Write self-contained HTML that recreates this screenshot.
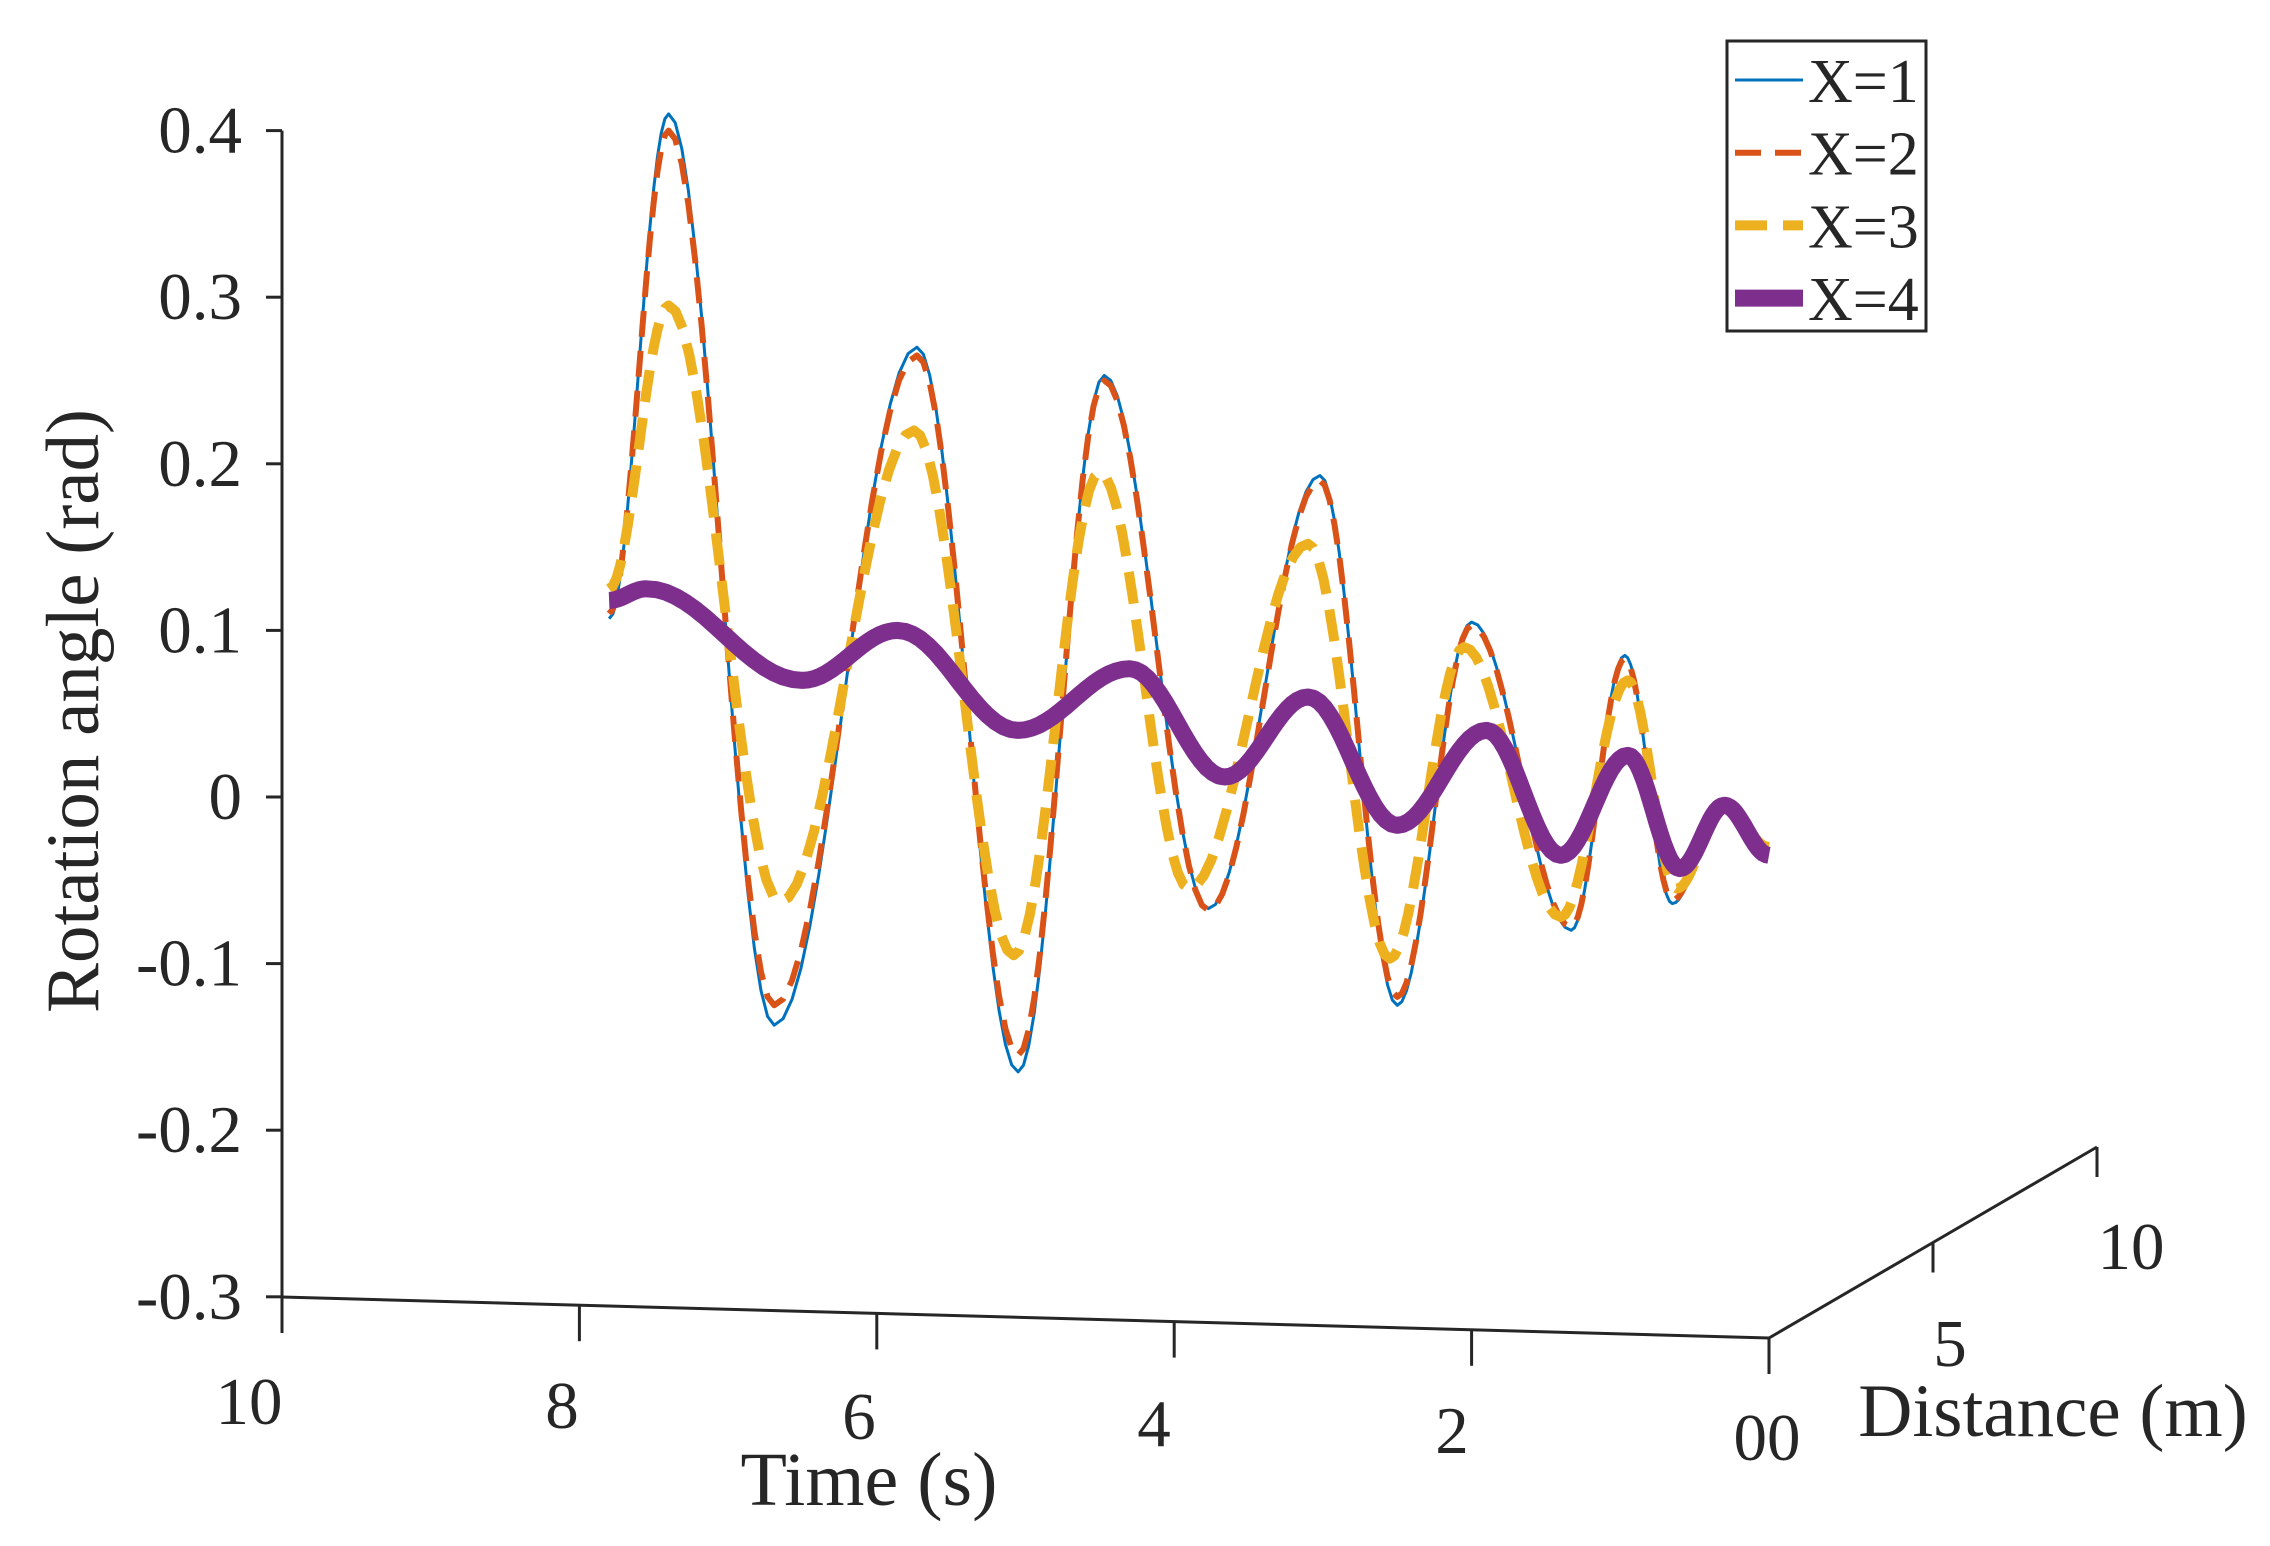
<!DOCTYPE html>
<html><head><meta charset="utf-8"><style>
html,body{margin:0;padding:0;background:#fff;}
svg{display:block;font-family:"Liberation Serif",serif;}
</style></head><body>
<svg id="chart" width="2270" height="1546" viewBox="0 0 2270 1546">
<g id="axes"></g>
<g id="series"></g>
<g id="legend"></g>
</svg>
<script>
const yTicks = [0.4, 0.3, 0.2, 0.1, 0, -0.1, -0.2, -0.3];
const yTickLabels = ["0.4","0.3","0.2","0.1","0","-0.1","-0.2","-0.3"];
const timeTicks = [10, 8, 6, 4, 2, 0];
const timeTickLabels = ["10","8","6","4","2","00"];
const distTicks = [5, 10];
const distTickLabels = ["5","10"];
const seriesNames = ["X=1","X=2","X=3","X=4"];
const t1 = [7.8,7.4,6.69,5.73,5.05,4.47,3.77,3.02,2.5,2.0,1.33,0.97,0.65,0.31,0];
const v1 = [0.107,0.41,-0.137,0.27,-0.165,0.253,-0.067,0.193,-0.125,0.105,-0.08,0.085,-0.064,-0.002,-0.032];
const t2 = [7.8,7.4,6.69,5.73,5.05,4.47,3.77,3.02,2.5,2.0,1.33,0.97,0.65,0.31,0];
const v2 = [0.11,0.40,-0.125,0.265,-0.155,0.25,-0.068,0.19,-0.12,0.103,-0.078,0.083,-0.062,-0.003,-0.032];
const t3 = [7.8,7.4,6.65,5.75,5.08,4.5,3.9,3.1,2.55,2.05,1.4,0.95,0.62,0.3,0];
const v3 = [0.125,0.295,-0.063,0.22,-0.095,0.195,-0.055,0.152,-0.097,0.09,-0.072,0.07,-0.055,-0.005,-0.03];
const t4 = [7.8,7.55,6.5,5.86,5.05,4.3,3.66,3.1,2.5,1.9,1.4,0.95,0.6,0.3,0];
const v4 = [0.118,0.125,0.07,0.1,0.04,0.077,0.012,0.06,-0.017,0.04,-0.035,0.025,-0.043,-0.005,-0.035];

const NS="http://www.w3.org/2000/svg";
function mk(tag,attrs,parent){const e=document.createElementNS(NS,tag);for(const k in attrs)e.setAttribute(k,attrs[k]);parent.appendChild(e);return e;}
const yZero=797, yPer=1666;
function yS(v){return yZero - v*yPer;}
function xT(t){return 1769 - t*148.7;}
function baseY(t){return 1297 + (10-t)/10*41;}

const axes=document.getElementById('axes');
let l=mk('line',{x1:282,y1:yS(0.4),x2:282,y2:yS(-0.3),stroke:'#262626','stroke-width':3},axes);


yTicks.forEach((v,i)=>{
  const tk=mk('line',{x1:266,y1:yS(v),x2:282,y2:yS(v),stroke:'#262626','stroke-width':3},axes);
  
  
  const tx=mk('text',{x:242,y:yS(v)+22,'text-anchor':'end','font-size':67,fill:'#262626'},axes);
  tx.textContent=yTickLabels[i];
  
  
});
l=mk('line',{x1:282,y1:1297,x2:1769,y2:1338,stroke:'#262626','stroke-width':3},axes);


const tlabY=[1401,1405,1416,1423,1430,1437];
const tlabX=[249,562,859,1154,1452,1767];
timeTicks.forEach((t,i)=>{
  const x=xT(t), y=baseY(t);
  const tk=mk('line',{x1:x,y1:y,x2:x,y2:y+36,stroke:'#262626','stroke-width':3},axes);
  
  
  const tx=mk('text',{x:tlabX[i],y:tlabY[i]+23,'text-anchor':'middle','font-size':67,fill:'#262626'},axes);
  tx.textContent=timeTickLabels[i];
  
  
});
function xD(d){return 1769 + d/10*(2097-1769);}
function yD(d){return 1338 - d/10*(1338-1147);}
l=mk('line',{x1:1769,y1:1338,x2:2097,y2:1147,stroke:'#262626','stroke-width':3},axes);


const dlx=[1950,2131], dly=[1343,1246];
distTicks.forEach((d,i)=>{
  const tk=mk('line',{x1:xD(d),y1:yD(d),x2:xD(d),y2:yD(d)+30,stroke:'#262626','stroke-width':3},axes);
  
  
  const tx=mk('text',{x:dlx[i],y:dly[i]+23,'text-anchor':'middle','font-size':67,fill:'#262626'},axes);
  tx.textContent=distTickLabels[i];
  
  
});
let t=mk('text',{x:869,y:1505,'text-anchor':'middle','font-size':76,fill:'#262626'},axes);
t.textContent='Time (s)';


t=mk('text',{x:2053,y:1436,'text-anchor':'middle','font-size':75,fill:'#262626'},axes);
t.textContent='Distance (m)';


t=mk('text',{x:0,y:0,'text-anchor':'middle','font-size':75,fill:'#262626',transform:'translate(98,711) rotate(-90)'},axes);
t.textContent='Rotation angle (rad)';



const styles=[
 {c:'#0072BD',w:3,d:''},
 {c:'#D95319',w:6,d:'26 14'},
 {c:'#EDB120',w:10,d:'32 16'},
 {c:'#7E2F8E',w:17,d:''}];
const allT=[t1,t2,t3,t4], allV=[v1,v2,v3,v4];
const sg=document.getElementById('series');
function pathFor(ts,vs){
  let d='M'+xT(ts[0]).toFixed(1)+','+yS(vs[0]).toFixed(1);
  for(let i=0;i<ts.length-1;i++){
    for(let k=1;k<=16;k++){
      const f=k/16, g=(1-Math.cos(Math.PI*f))/2;
      const tt=ts[i]+(ts[i+1]-ts[i])*f, vv=vs[i]+(vs[i+1]-vs[i])*g;
      d+=' L'+xT(tt).toFixed(1)+','+yS(vv).toFixed(1);
    }
  }
  return d;
}
allT.forEach((ts,i)=>{
  const p=mk('path',{d:pathFor(ts,allV[i]),fill:'none',stroke:styles[i].c,'stroke-width':styles[i].w,'stroke-dasharray':styles[i].d,'stroke-linejoin':'round'},sg);
  
  
});

const lg=document.getElementById('legend');
const box=mk('rect',{x:1727,y:41,width:199,height:290,fill:'#fff',stroke:'#262626','stroke-width':3},lg);


seriesNames.forEach((n,i)=>{
  const y=80+i*72.7;
  const ln=mk('line',{x1:1735,y1:y,x2:1803,y2:y,stroke:styles[i].c,'stroke-width':styles[i].w,'stroke-dasharray':styles[i].d},lg);
  
  
  const tx=mk('text',{x:1808,y:y+22,'font-size':62,fill:'#262626'},lg);
  tx.textContent=n;
  
  
});
</script>
</body></html>
